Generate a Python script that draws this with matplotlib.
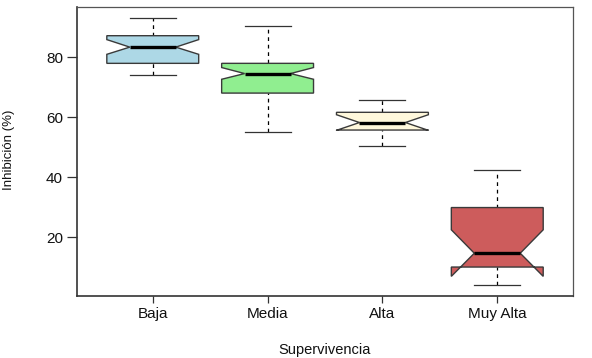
import matplotlib
matplotlib.use('Agg')
import matplotlib.pyplot as plt
from matplotlib.patches import Polygon

# ─── Data ─────────────────────────────────────────────────────────────────────
categories = ['Baja', 'Media', 'Alta', 'Muy Alta']
whisker_lo = [73.9, 54.9, 50.3, 4.0]
q1         = [77.9, 68.0, 55.7, 10.1]
median     = [83.3, 74.5, 58.2, 14.7]
q3         = [87.1, 77.9, 61.6, 29.9]
whisker_hi = [92.9, 90.4, 65.8, 42.3]
notch_lo   = [80.9, 72.6, 55.6, 7.0]
notch_hi   = [85.8, 76.5, 60.8, 22.5]
colors     = ['#add8e6', '#90ee90', '#fff8dc', '#cd5c5c']

plt.rcParams['font.family'] = ['Liberation Sans', 'DejaVu Sans']

fig = plt.figure(figsize=(5.92, 3.58), dpi=100, facecolor='white')
ax = fig.add_axes([0.130, 0.173, 0.838, 0.807])

half = 0.4      # box half width
inner = 0.2     # notch / cap half width
edge = '#3a3a3a'

for i, cat in enumerate(categories):
    x = i + 1
    # whiskers + caps
    ax.plot([x, x], [q3[i], whisker_hi[i]], color='black', lw=0.9,
            linestyle=(0, (3, 3)), zorder=1)
    ax.plot([x, x], [whisker_lo[i], q1[i]], color='black', lw=0.9,
            linestyle=(0, (3, 3)), zorder=1)
    ax.plot([x - inner, x + inner], [whisker_hi[i]] * 2, color='#333333', lw=0.9, zorder=1)
    ax.plot([x - inner, x + inner], [whisker_lo[i]] * 2, color='#333333', lw=0.9, zorder=1)

    # notched box, same vertex order as R's bxp
    xs = [x - half, x - half, x - inner, x - half, x - half,
          x + half, x + half, x + inner, x + half, x + half]
    ys = [q1[i], notch_lo[i], median[i], notch_hi[i], q3[i],
          q3[i], notch_hi[i], median[i], notch_lo[i], q1[i]]
    poly = Polygon(list(zip(xs, ys)), closed=True, facecolor=colors[i],
                   edgecolor=edge, lw=1.0, zorder=2)
    ax.add_patch(poly)

    # median
    ax.plot([x - inner, x + inner], [median[i]] * 2, color='black', lw=2.4,
            solid_capstyle='butt', zorder=3)

ax.set_xlim(0.34, 4.66)
ax.set_ylim(0.44, 96.6)
ax.set_xticks(range(1, len(categories) + 1))
ax.set_xticklabels(categories, fontsize=11, color='#111111')
ax.set_yticks([20, 40, 60, 80])
ax.set_yticklabels(['20', '40', '60', '80'], fontsize=11, color='#111111')
ax.tick_params(axis='x', length=5, width=0.9, pad=3, colors='#333333', labelcolor='#111111')
ax.tick_params(axis='y', length=7, width=0.9, pad=3, colors='#333333', labelcolor='#111111')

for side in ['top', 'right']:
    ax.spines[side].set_color('#555555')
    ax.spines[side].set_linewidth(0.9)
for side in ['left', 'bottom']:
    ax.spines[side].set_color('#333333')
    ax.spines[side].set_linewidth(1.2)

# axis titles placed like R's mtext
fig.text(325 / 592, 1 - 350 / 358, 'Supervivencia', fontsize=10.5,
         ha='center', va='center', color='#111111')
fig.text(9 / 592, 1 - 150 / 358, 'Inhibición (%)', fontsize=9.5, rotation=90,
         ha='center', va='center', color='#111111')

fig.savefig('out.png', dpi=100, facecolor='white')
